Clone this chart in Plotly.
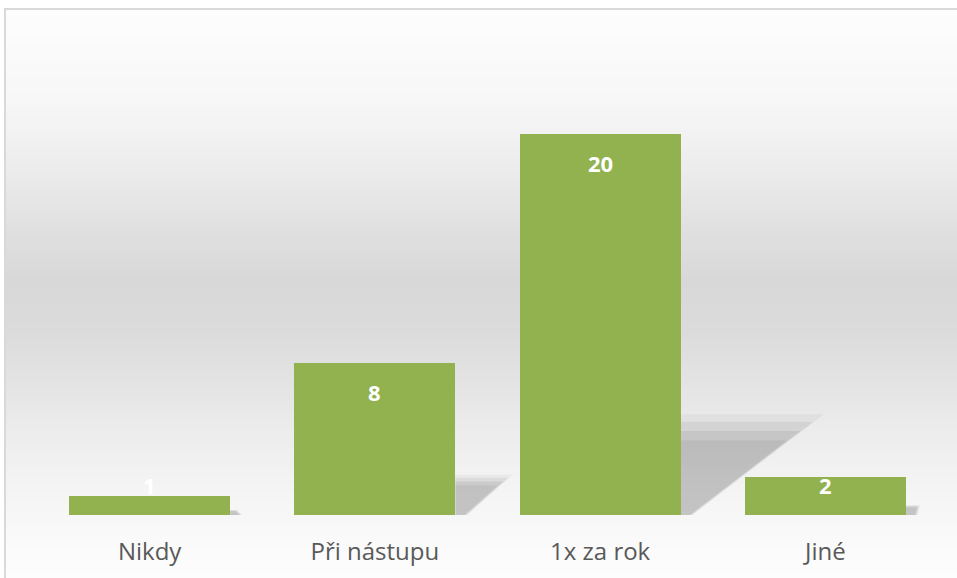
import plotly.graph_objects as go

categories = ["Nikdy", "Při nástupu", "1x za rok", "Jiné"]
values = [1, 8, 20, 2]

W, H = 957, 578
ML, MR, MT, MB = 37, 19, 39, 63
PW, PH = W - ML - MR, H - MT - MB
YMAX = 25
BARW = 0.714

fig = go.Figure()
fig.add_trace(go.Bar(
    x=list(range(len(categories))), y=values, width=BARW,
    marker=dict(color="#92b14f", line=dict(width=0)),
    hoverinfo="skip",
))

shapes = []

# background vertical gradient (figure-wide), in paper coordinates
stops = [(0, 253), (10, 253), (100, 247), (170, 236), (230, 224), (280, 216),
         (330, 219), (380, 227), (430, 236), (480, 243), (540, 250), (578, 253)]

def grey_at(py):
    for (y0, c0), (y1, c1) in zip(stops[:-1], stops[1:]):
        if y0 <= py <= y1:
            t = (py - y0) / (y1 - y0) if y1 > y0 else 0
            return round(c0 + (c1 - c0) * t)
    return stops[-1][1]

def py2paper(py):
    return 1 - (py - MT) / PH

def px2paper(px):
    return (px - ML) / PW

step = 3
py = 10
while py < H:
    g = grey_at(py + step / 2)
    shapes.append(dict(type="rect", xref="paper", yref="paper",
                       x0=px2paper(5), x1=px2paper(W + 5),
                       y0=py2paper(py + step + 0.5), y1=py2paper(py),
                       fillcolor=f"rgb({g},{g},{g})", line=dict(width=0),
                       layer="below"))
    py += step

# soft perspective shadows derived from bar values
for i, v in enumerate(values):
    xr = i + BARW / 2
    for k, (grow, alpha) in enumerate([(1.08, 0.04), (1.0, 0.06), (0.9, 0.07), (0.8, 0.05)]):
        top = 0.245 * v * grow
        ext = 0.0295 * v * grow
        path = (f"M {xr},0 L {xr},{top} L {xr + ext},{top} "
                f"L {xr + 0.05 * grow},0 Z")
        shapes.append(dict(type="path", xref="x", yref="y", path=path,
                           fillcolor=f"rgba(0,0,0,{alpha})",
                           line=dict(width=0), layer="below"))

# chart frame border
shapes.append(dict(type="rect", xref="paper", yref="paper",
                   x0=px2paper(5), x1=px2paper(W + 10),
                   y0=py2paper(H + 20), y1=py2paper(9),
                   fillcolor="rgba(0,0,0,0)",
                   line=dict(color="#d9d9d9", width=2), layer="above"))

annotations = []
for i, v in enumerate(values):
    annotations.append(dict(
        x=i, y=max(v - 1.52, 1.55), xref="x", yref="y",
        text=f"<b>{v}</b>", showarrow=False, yanchor="middle",
        font=dict(family="Open Sans", size=22, color="white"),
    ))

fig.update_layout(
    width=W, height=H,
    margin=dict(l=ML, r=MR, t=MT, b=MB, pad=0),
    paper_bgcolor="white", plot_bgcolor="rgba(0,0,0,0)",
    showlegend=False, bargap=0,
    shapes=shapes, annotations=annotations,
    xaxis=dict(range=[-0.5, len(categories) - 0.5], tickmode="array",
               tickvals=list(range(len(categories))), ticktext=categories,
               showgrid=False, zeroline=False, showline=False, ticks="",
               ticklabelstandoff=20,
               tickfont=dict(family="Open Sans", size=24, color="#595959")),
    yaxis=dict(range=[0, YMAX], visible=False, showgrid=False, zeroline=False),
)

fig.write_html("out.html", config={"displayModeBar": False},
               post_script="document.body.style.margin='0';document.body.style.overflow='hidden';")
